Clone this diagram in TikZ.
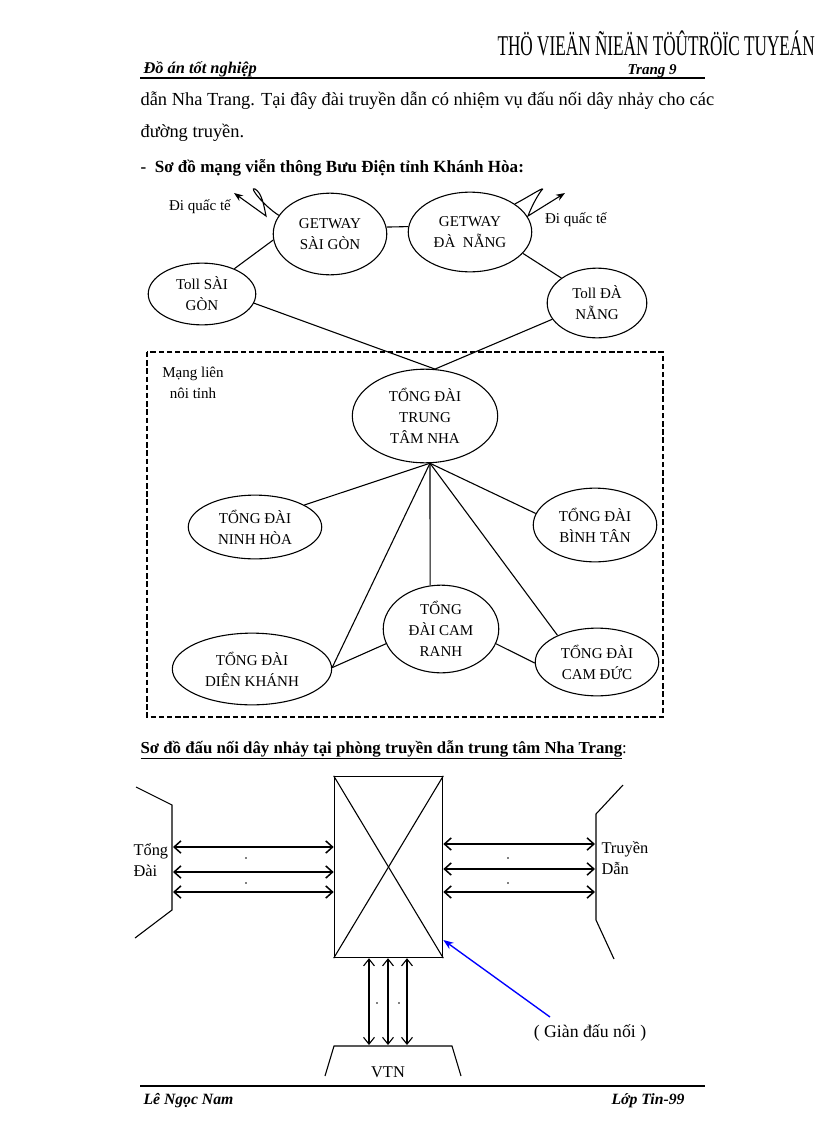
\documentclass[tikz,border=0pt]{standalone}
\usepackage{fontspec}
\setmainfont{Liberation Serif}
\usepackage{graphicx}
\usetikzlibrary{arrows.meta}
\usetikzlibrary{shapes.geometric}
\usetikzlibrary{calc,positioning}

\begin{document}
\begin{tikzpicture}[>=Stealth, x=0.025735cm, y=-0.025735cm, line width=0.8pt,
    station/.style 2 args={ellipse, draw, inner sep=0pt, align=center,
      minimum width=#1*1.459pt, minimum height=#2*1.459pt,
      font=\fontsize{11}{15.5}\selectfont},
    note/.style={inner sep=0pt, align=center, font=\fontsize{11}{15}\selectfont},
    bodytext/.style={anchor=base west, inner sep=0pt, font=\fontsize{13.5}{16}\selectfont},
    jumper/.style={{Straight Barb[length=5pt,width=9pt]}-{Straight Barb[length=5pt,width=9pt]}, line width=1.1pt},
    dot/.style={circle, fill, inner sep=0.5pt}]
        \useasboundingbox (0,0) rectangle (816,1123);

        % page header
        \node[anchor=base west, inner sep=0pt] (library) at (497,55) {\scalebox{0.6}[1]{\fontsize{21}{25}\selectfont THÖ VIEÄN ÑIEÄN TÖÛTRÖÏC TUYEÁN}};
        \node[anchor=base west, inner sep=0pt, font=\fontsize{12}{14}\selectfont\bfseries\itshape] (thesis) at (143,73) {Đồ án tốt nghiệp};
        \node[anchor=base west, inner sep=0pt, font=\fontsize{11}{13}\selectfont\bfseries\itshape] (page) at (627,74) {Trang 9};
        \draw[line width=2pt] (140,78) -- (705,78);

        \node[bodytext] (line1) at (140,105) {dẫn Nha Trang. Tại đây đài truyền dẫn có nhiệm vụ đấu nối dây nhảy cho các};
        \node[bodytext] (line2) at (140,137) {đường truyền.};
        \node[bodytext, font=\fontsize{12.5}{16}\selectfont\bfseries] (head1) at (140,172) {-\ \ Sơ đồ mạng viễn thông Bưu Điện tỉnh Khánh Hòa:};

        % network of Khanh Hoa
        \node[station={57}{41}] (gwsg) at (330,234) {GETWAY\\SÀI GÒN};
        \node[station={62}{40}] (gwdn) at (470,232) {GETWAY\\ĐÀ~ NẴNG};
        \node[station={54}{31}] (tollsg) at (202,294) {Toll SÀI\\GÒN};
        \node[station={50}{35}] (tolldn) at (597,303) {Toll ĐÀ\\NẴNG};
        \node[station={73}{47}] (center) at (425,416) {TỔNG ĐÀI\\TRUNG\\TÂM NHA};
        \node[station={67}{32}] (ninhhoa) at (255,527) {TỔNG ĐÀI\\NINH HÒA};
        \node[station={62}{37}] (binhtan) at (595,525) {TỔNG ĐÀI\\BÌNH TÂN};
        \node[station={58}{44}] (camranh) at (441,629) {TỔNG\\ĐÀI CAM\\RANH};
        \node[station={80}{36}] (dienkhanh) at (252,669) {TỔNG ĐÀI\\DIÊN KHÁNH};
        \node[station={62}{34}] (camduc) at (597,662) {TỔNG ĐÀI\\CAM ĐỨC};

        \node[note] (intl1) at (200,207) {Đi quấc tế};
        \node[note] (intl2) at (576,220) {Đi quấc tế};
        \node[note] (province) at (193,383) {Mạng liên\\nôi tỉnh};

        \draw[dashed, dash pattern=on 4pt off 2pt] (147,352) rectangle (663,717);

        \draw (tollsg.38) -- (gwsg.186);
        \draw (gwsg.7) -- (gwdn.175);
        \draw (gwdn.338) -- (tolldn.145);
        \draw (tollsg.350) -- (center.78);
        \draw (tolldn.200) -- (center.78);

        \coordinate (hub) at (center.276);
        \draw (hub) -- (ninhhoa.24);
        \draw (hub) -- (binhtan.169);
        \draw (hub) -- (camranh.104);
        \draw (hub) -- (dienkhanh.1);
        \draw (hub) -- (camduc.146);
        \draw (dienkhanh.1) -- (camranh.195);
        \draw (camranh.345) -- (camduc.181);

        \draw[->] (gwsg.160) .. controls (264,206) and (248,186) .. (255,189)
            .. controls (262,193) and (264,206) .. (266,216) -- (234,193);
        \draw[->] (gwdn.32) .. controls (530,196) and (548,184) .. (541,191)
            .. controls (536,198) and (531,208) .. (528,216) -- (565,193);

        % jumper wiring
        \node[bodytext, font=\fontsize{12.3}{16}\selectfont] (head2) at (140,753) {\textbf{\underline{Sơ đồ đấu nối dây nhảy tại phòng truyền dẫn trung tâm Nha Trang}}:};

        \node[draw, inner sep=0pt, minimum width=109*0.7295pt, minimum height=182*0.7295pt] (frame) at (388.5,867) {};
        \draw (frame.north west) -- (frame.south east);
        \draw (frame.north east) -- (frame.south west);

        \draw (136,787) -- (172,805) -- (172,910) -- (135,938);
        \draw (623,785) -- (596,814) -- (596,920) -- (614,959);
        \node[anchor=west, inner sep=0pt, align=left, font=\fontsize{12}{15.3}\selectfont] (switch) at (133,860) {Tổng\\Đài};
        \node[anchor=west, inner sep=0pt, align=left, font=\fontsize{12}{15.3}\selectfont] (trans) at (601,858) {Truyền\\Dẫn};

        \foreach \y in {847,872,892}
            \draw[jumper] (173,\y) -- (frame.west |- 0,\y);
        \foreach \y in {844,869,892}
            \draw[jumper] (frame.east |- 0,\y) -- (595,\y);

        \draw (325,1076) -- (334,1046) -- (452,1046) -- (461,1076);
        \node[inner sep=0pt, font=\fontsize{12}{14}\selectfont] (vtn) at (388,1072) {VTN};
        \foreach \x in {369,388,407}
            \draw[{Straight Barb[length=5pt,width=8pt]}-{Straight Barb[length=5pt,width=8pt]}] (frame.south -| \x,0) -- (\x,1045);

        \foreach \x/\y [count=\i] in {246/858,246/883,508/858,508/883,377/1003,399/1003}
            \node[dot] (dot\i) at (\x,\y) {};

        \node[inner sep=0pt, font=\fontsize{13}{15}\selectfont] (rack) at (590,1033) {( Giàn đấu nối )};
        \coordinate (racktail) at (550,1017);
        \draw[->, blue, line width=1pt] (racktail) -- (frame.east |- 0,940);

        % page footer
        \draw[line width=2pt] (140,1086) -- (705,1086);
        \node[anchor=base west, inner sep=0pt, font=\fontsize{11.5}{13}\selectfont\bfseries\itshape] (author) at (143,1104) {Lê Ngọc Nam};
        \node[anchor=base east, inner sep=0pt, font=\fontsize{11.5}{13}\selectfont\bfseries\itshape] (class) at (685,1104) {Lớp Tin-99};
\end{tikzpicture}
\end{document}
